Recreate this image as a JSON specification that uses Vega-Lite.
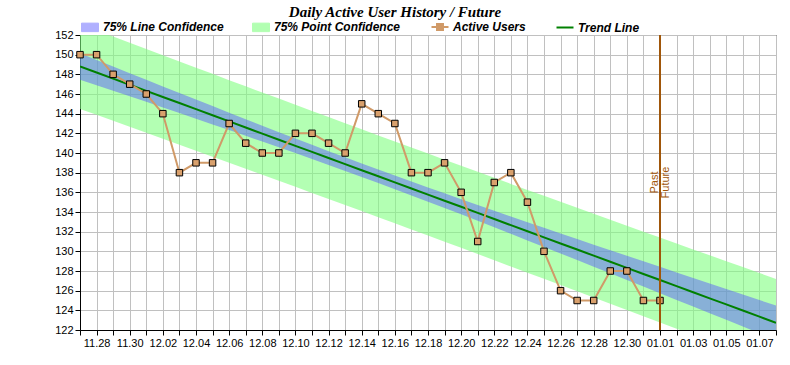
{
  "$schema": "https://vega.github.io/schema/vega-lite/v6.json",
  "width": 696,
  "height": 295,
  "autosize": "none",
  "padding": {"left": 80, "top": 35, "right": 14, "bottom": 35},
  "background": "white",
  "title": {"text": "Daily Active User History / Future", "font": "Liberation Serif", "fontSize": 15, "fontStyle": "italic", "fontWeight": "bold", "color": "black", "anchor": "middle", "dx": -33, "offset": 1},
  "datasets": {
    "band": [
      {"date": "2024/11/27", "trend": 148.80, "lineLow": 147.46, "lineHigh": 150.14, "pointLow": 144.48, "pointHigh": 153.12},
      {"date": "2024/11/28", "trend": 148.18, "lineLow": 146.90, "lineHigh": 149.46, "pointLow": 143.88, "pointHigh": 152.48},
      {"date": "2024/11/29", "trend": 147.56, "lineLow": 146.33, "lineHigh": 148.79, "pointLow": 143.28, "pointHigh": 151.84},
      {"date": "2024/11/30", "trend": 146.94, "lineLow": 145.77, "lineHigh": 148.11, "pointLow": 142.67, "pointHigh": 151.21},
      {"date": "2024/12/01", "trend": 146.32, "lineLow": 145.20, "lineHigh": 147.44, "pointLow": 142.07, "pointHigh": 150.57},
      {"date": "2024/12/02", "trend": 145.70, "lineLow": 144.63, "lineHigh": 146.77, "pointLow": 141.46, "pointHigh": 149.94},
      {"date": "2024/12/03", "trend": 145.08, "lineLow": 144.06, "lineHigh": 146.10, "pointLow": 140.85, "pointHigh": 149.31},
      {"date": "2024/12/04", "trend": 144.46, "lineLow": 143.49, "lineHigh": 145.43, "pointLow": 140.24, "pointHigh": 148.68},
      {"date": "2024/12/05", "trend": 143.84, "lineLow": 142.91, "lineHigh": 144.77, "pointLow": 139.63, "pointHigh": 148.05},
      {"date": "2024/12/06", "trend": 143.21, "lineLow": 142.33, "lineHigh": 144.09, "pointLow": 139.01, "pointHigh": 147.41},
      {"date": "2024/12/07", "trend": 142.59, "lineLow": 141.75, "lineHigh": 143.43, "pointLow": 138.40, "pointHigh": 146.78},
      {"date": "2024/12/08", "trend": 141.97, "lineLow": 141.16, "lineHigh": 142.78, "pointLow": 137.79, "pointHigh": 146.15},
      {"date": "2024/12/09", "trend": 141.35, "lineLow": 140.58, "lineHigh": 142.12, "pointLow": 137.18, "pointHigh": 145.53},
      {"date": "2024/12/10", "trend": 140.73, "lineLow": 139.99, "lineHigh": 141.48, "pointLow": 136.56, "pointHigh": 144.90},
      {"date": "2024/12/11", "trend": 140.11, "lineLow": 139.39, "lineHigh": 140.83, "pointLow": 135.94, "pointHigh": 144.28},
      {"date": "2024/12/12", "trend": 139.49, "lineLow": 138.79, "lineHigh": 140.19, "pointLow": 135.33, "pointHigh": 143.65},
      {"date": "2024/12/13", "trend": 138.87, "lineLow": 138.18, "lineHigh": 139.56, "pointLow": 134.71, "pointHigh": 143.03},
      {"date": "2024/12/14", "trend": 138.25, "lineLow": 137.57, "lineHigh": 138.94, "pointLow": 134.09, "pointHigh": 142.41},
      {"date": "2024/12/15", "trend": 137.63, "lineLow": 136.95, "lineHigh": 138.32, "pointLow": 133.47, "pointHigh": 141.79},
      {"date": "2024/12/16", "trend": 137.01, "lineLow": 136.32, "lineHigh": 137.70, "pointLow": 132.85, "pointHigh": 141.17},
      {"date": "2024/12/17", "trend": 136.39, "lineLow": 135.69, "lineHigh": 137.09, "pointLow": 132.23, "pointHigh": 140.55},
      {"date": "2024/12/18", "trend": 135.77, "lineLow": 135.05, "lineHigh": 136.49, "pointLow": 131.60, "pointHigh": 139.94},
      {"date": "2024/12/19", "trend": 135.15, "lineLow": 134.41, "lineHigh": 135.90, "pointLow": 130.98, "pointHigh": 139.32},
      {"date": "2024/12/20", "trend": 134.53, "lineLow": 133.76, "lineHigh": 135.30, "pointLow": 130.36, "pointHigh": 138.71},
      {"date": "2024/12/21", "trend": 133.91, "lineLow": 133.10, "lineHigh": 134.72, "pointLow": 129.73, "pointHigh": 138.09},
      {"date": "2024/12/22", "trend": 133.29, "lineLow": 132.45, "lineHigh": 134.13, "pointLow": 129.10, "pointHigh": 137.48},
      {"date": "2024/12/23", "trend": 132.66, "lineLow": 131.78, "lineHigh": 133.54, "pointLow": 128.46, "pointHigh": 136.86},
      {"date": "2024/12/24", "trend": 132.04, "lineLow": 131.11, "lineHigh": 132.97, "pointLow": 127.83, "pointHigh": 136.25},
      {"date": "2024/12/25", "trend": 131.42, "lineLow": 130.45, "lineHigh": 132.39, "pointLow": 127.20, "pointHigh": 135.64},
      {"date": "2024/12/26", "trend": 130.80, "lineLow": 129.78, "lineHigh": 131.82, "pointLow": 126.57, "pointHigh": 135.03},
      {"date": "2024/12/27", "trend": 130.18, "lineLow": 129.11, "lineHigh": 131.25, "pointLow": 125.94, "pointHigh": 134.42},
      {"date": "2024/12/28", "trend": 129.56, "lineLow": 128.44, "lineHigh": 130.68, "pointLow": 125.31, "pointHigh": 133.81},
      {"date": "2024/12/29", "trend": 128.94, "lineLow": 127.77, "lineHigh": 130.11, "pointLow": 124.67, "pointHigh": 133.21},
      {"date": "2024/12/30", "trend": 128.32, "lineLow": 127.09, "lineHigh": 129.55, "pointLow": 124.04, "pointHigh": 132.60},
      {"date": "2024/12/31", "trend": 127.70, "lineLow": 126.42, "lineHigh": 128.98, "pointLow": 123.40, "pointHigh": 132.00},
      {"date": "2025/01/01", "trend": 127.08, "lineLow": 125.74, "lineHigh": 128.42, "pointLow": 122.76, "pointHigh": 131.40},
      {"date": "2025/01/02", "trend": 126.46, "lineLow": 125.06, "lineHigh": 127.86, "pointLow": 122.13, "pointHigh": 130.79},
      {"date": "2025/01/03", "trend": 125.84, "lineLow": 124.39, "lineHigh": 127.29, "pointLow": 121.49, "pointHigh": 130.19},
      {"date": "2025/01/04", "trend": 125.22, "lineLow": 123.71, "lineHigh": 126.73, "pointLow": 120.85, "pointHigh": 129.59},
      {"date": "2025/01/05", "trend": 124.60, "lineLow": 123.03, "lineHigh": 126.17, "pointLow": 120.21, "pointHigh": 128.99},
      {"date": "2025/01/06", "trend": 123.98, "lineLow": 122.35, "lineHigh": 125.61, "pointLow": 119.57, "pointHigh": 128.40},
      {"date": "2025/01/07", "trend": 123.36, "lineLow": 121.67, "lineHigh": 125.05, "pointLow": 118.92, "pointHigh": 127.80},
      {"date": "2025/01/08", "trend": 122.73, "lineLow": 120.98, "lineHigh": 124.48, "pointLow": 118.27, "pointHigh": 127.19}
    ],
    "users": [
      {"date": "2024/11/27", "users": 150},
      {"date": "2024/11/28", "users": 150},
      {"date": "2024/11/29", "users": 148},
      {"date": "2024/11/30", "users": 147},
      {"date": "2024/12/01", "users": 146},
      {"date": "2024/12/02", "users": 144},
      {"date": "2024/12/03", "users": 138},
      {"date": "2024/12/04", "users": 139},
      {"date": "2024/12/05", "users": 139},
      {"date": "2024/12/06", "users": 143},
      {"date": "2024/12/07", "users": 141},
      {"date": "2024/12/08", "users": 140},
      {"date": "2024/12/09", "users": 140},
      {"date": "2024/12/10", "users": 142},
      {"date": "2024/12/11", "users": 142},
      {"date": "2024/12/12", "users": 141},
      {"date": "2024/12/13", "users": 140},
      {"date": "2024/12/14", "users": 145},
      {"date": "2024/12/15", "users": 144},
      {"date": "2024/12/16", "users": 143},
      {"date": "2024/12/17", "users": 138},
      {"date": "2024/12/18", "users": 138},
      {"date": "2024/12/19", "users": 139},
      {"date": "2024/12/20", "users": 136},
      {"date": "2024/12/21", "users": 131},
      {"date": "2024/12/22", "users": 137},
      {"date": "2024/12/23", "users": 138},
      {"date": "2024/12/24", "users": 135},
      {"date": "2024/12/25", "users": 130},
      {"date": "2024/12/26", "users": 126},
      {"date": "2024/12/27", "users": 125},
      {"date": "2024/12/28", "users": 125},
      {"date": "2024/12/29", "users": 128},
      {"date": "2024/12/30", "users": 128},
      {"date": "2024/12/31", "users": 125},
      {"date": "2025/01/01", "users": 125}
    ],
    "divider": [
      {"date": "2025/01/01", "label": "Past", "level": 137},
      {"date": "2025/01/01", "label": "Future", "level": 137}
    ]
  },
  "encoding": {
    "x": {
      "field": "date",
      "type": "temporal",
      "scale": {"domain": [{"year": 2024, "month": 11, "date": 27}, {"year": 2025, "month": 1, "date": 8}], "nice": false},
      "axis": {
        "title": null,
        "tickCount": {"interval": "day", "step": 1},
        "labelExpr": "round((datum.value - datetime(2024, 10, 27)) / 86400000) % 2 == 1 ? timeFormat(datum.value, '%m.%d') : ''",
        "labelOverlap": false,
        "labelPadding": 2,
        "labelFlush": false
      }
    }
  },
  "layer": [
    {
      "data": {"name": "band"},
      "mark": {"type": "area", "opacity": 0.6, "clip": true},
      "encoding": {
        "y": {"field": "pointLow", "type": "quantitative", "scale": {"domain": [122, 152], "nice": false, "zero": false}, "axis": {"title": null, "tickCount": 15, "labelOverlap": false, "labelFlush": false, "labelBound": false, "labelPadding": 2}},
        "y2": {"field": "pointHigh"},
        "color": {
          "datum": "75% Point Confidence",
          "scale": {"domain": ["75% Line Confidence", "75% Point Confidence", "Active Users", "Trend Line"], "range": ["#5858ff", "#80ff80", "#d09a68", "#008000"]},
          "legend": {
            "title": null,
            "orient": "none",
            "legendX": 4,
            "legendY": -14,
            "direction": "horizontal",
            "symbolSize": 289,
            "labelFont": "Liberation Sans",
            "labelFontSize": 12,
            "labelFontWeight": "bold",
            "labelFontStyle": "italic",
            "labelColor": "black",
            "labelOffset": 7,
            "columnPadding": 26,
            "encoding": {
              "symbols": {
                "shape": {"value": {"expr": "datum.value == 'Trend Line' ? 'M-1,0H1' : datum.value == 'Active Users' ? 'M-1,0H-0.35M0.35,0H1M-0.35,-0.35H0.35V0.35H-0.35Z' : 'M-1,-0.5H1V0.5H-1Z'"}},
                "strokeWidth": {"value": {"expr": "datum.value == 'Active Users' || datum.value == 'Trend Line' ? 2 : 1"}},
                "opacity": {"value": {"expr": "datum.value == '75% Line Confidence' ? 0.47 : datum.value == '75% Point Confidence' ? 0.6 : 1"}},
                "fillOpacity": {"value": 1},
                "strokeOpacity": {"value": 1}
              }
            }
          }
        }
      }
    },
    {
      "data": {"name": "band"},
      "mark": {"type": "area", "opacity": 0.47, "clip": true},
      "encoding": {
        "y": {"field": "lineLow", "type": "quantitative"},
        "y2": {"field": "lineHigh"},
        "color": {"datum": "75% Line Confidence"}
      }
    },
    {
      "data": {"name": "band"},
      "mark": {"type": "line", "strokeWidth": 2, "clip": true},
      "encoding": {
        "y": {"field": "trend", "type": "quantitative"},
        "color": {"datum": "Trend Line"}
      }
    },
    {
      "data": {"name": "users"},
      "mark": {"type": "line", "strokeWidth": 2},
      "encoding": {
        "y": {"field": "users", "type": "quantitative"},
        "color": {"datum": "Active Users"}
      }
    },
    {
      "data": {"name": "users"},
      "mark": {"type": "point", "shape": "square", "filled": true, "fill": "#d9a06c", "stroke": "black", "strokeWidth": 1, "size": 42, "opacity": 1},
      "encoding": {
        "y": {"field": "users", "type": "quantitative"}
      }
    },
    {
      "data": {"name": "divider"},
      "mark": {"type": "rule", "color": "#a0560a", "strokeWidth": 2},
      "encoding": {}
    },
    {
      "data": {"name": "divider"},
      "transform": [{"filter": "datum.label == 'Past'"}],
      "mark": {"type": "text", "angle": 270, "align": "center", "baseline": "bottom", "font": "Liberation Sans", "fontSize": 11, "color": "#a0560a"},
      "encoding": {
        "y": {"field": "level", "type": "quantitative"},
        "text": {"field": "label"}
      }
    },
    {
      "data": {"name": "divider"},
      "transform": [{"filter": "datum.label == 'Future'"}],
      "mark": {"type": "text", "angle": 270, "align": "center", "baseline": "top", "font": "Liberation Sans", "fontSize": 11, "color": "#a0560a"},
      "encoding": {
        "y": {"field": "level", "type": "quantitative"},
        "text": {"field": "label"}
      }
    }
  ],
  "config": {
    "view": {"stroke": "black", "strokeWidth": 1},
    "axis": {"labelFont": "Liberation Sans", "labelFontSize": 11, "labelColor": "black", "tickColor": "black", "domainColor": "black", "gridColor": "#c0c0c0", "gridOpacity": 1, "tickSize": 5},
    "axisY": {"labelOverlap": false, "labelFlush": false, "tickCount": 15}
  }
}
